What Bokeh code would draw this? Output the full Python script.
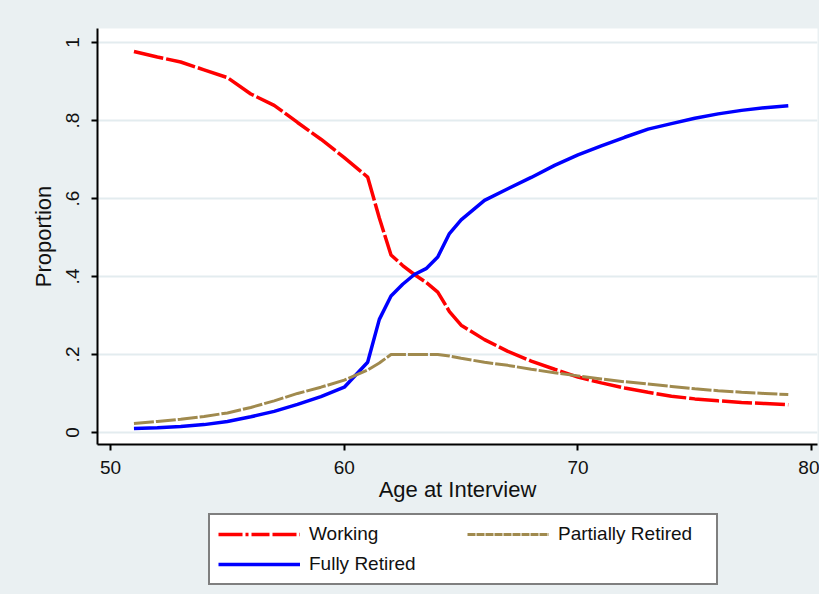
from bokeh.plotting import figure
from bokeh.layouts import column
from bokeh.models import Legend, LegendItem, FixedTicker, Range1d, CustomJSTickFormatter
from bokeh.embed import file_html
from bokeh.resources import INLINE

# ---- data ----
ages = [51, 52, 53, 54, 55, 56, 57, 58, 59, 60, 61, 61.5, 62, 62.5, 63, 63.5, 64, 64.5,
        65, 66, 67, 68, 69, 70, 71, 72, 73, 74, 75, 76, 77, 78, 79]
working = [0.977, 0.963, 0.950, 0.930, 0.910, 0.868, 0.839, 0.795, 0.752, 0.705, 0.655, 0.550,
           0.455, 0.428, 0.405, 0.385, 0.360, 0.310, 0.275, 0.238, 0.208, 0.183, 0.162, 0.142,
           0.127, 0.114, 0.103, 0.093, 0.086, 0.081, 0.077, 0.074, 0.071]
fully_retired = [0.010, 0.012, 0.015, 0.020, 0.028, 0.040, 0.054, 0.072, 0.092, 0.116, 0.180,
                 0.290, 0.350, 0.380, 0.405, 0.420, 0.450, 0.510, 0.545, 0.595, 0.625, 0.654,
                 0.685, 0.712, 0.735, 0.757, 0.778, 0.792, 0.806, 0.817, 0.826, 0.833, 0.838]
partially_retired = [0.023, 0.028, 0.034, 0.041, 0.050, 0.064, 0.081, 0.100, 0.116, 0.134, 0.160,
                     0.178, 0.200, 0.200, 0.200, 0.200, 0.200, 0.196, 0.190, 0.180, 0.172, 0.162,
                     0.153, 0.145, 0.137, 0.130, 0.124, 0.118, 0.112, 0.107, 0.103, 0.100, 0.097]
x_ticks = [50, 60, 70, 80]
y_ticks = [0, 0.2, 0.4, 0.6, 0.8, 1]

BG = "#eaf0f2"
FONT = "Liberation Sans"
RED, BLUE, TAN = "#ff0000", "#0000ff", "#a08a4e"

# ---- main chart ----
p = figure(width=819, height=505, output_backend="svg", toolbar_location=None,
           x_range=Range1d(49.44, 80.25), y_range=Range1d(-0.031, 1.036),
           min_border_left=97, min_border_right=2, min_border_top=28, min_border_bottom=61,
           background_fill_color="white", border_fill_color=BG)
p.outline_line_color = None

p.line(ages, working, line_color=RED, line_width=3.5, line_dash="30 3")
p.line(ages, fully_retired, line_color=BLUE, line_width=3.5)
p.line(ages, partially_retired, line_color=TAN, line_width=3, line_dash="20 2")

p.xaxis.ticker = FixedTicker(ticks=x_ticks)
p.yaxis.ticker = FixedTicker(ticks=y_ticks)
p.yaxis.formatter = CustomJSTickFormatter(code="""
    if (Math.abs(tick) < 1e-9) return '0';
    if (Math.abs(tick - 1) < 1e-9) return '1';
    return tick.toFixed(1).replace(/^0/, '');
""")
p.xaxis.axis_label = "Age at Interview"
p.yaxis.axis_label = "Proportion"
for ax in (p.xaxis[0], p.yaxis[0]):
    ax.axis_line_color = "black"
    ax.axis_line_width = 2
    ax.major_tick_line_color = "black"
    ax.major_tick_line_width = 2
    ax.major_tick_out = 6
    ax.major_tick_in = 0
    ax.minor_tick_line_color = None
    ax.major_label_text_font = FONT
    ax.major_label_text_font_size = "19px"
    ax.major_label_text_color = "#111111"
    ax.axis_label_text_font = FONT
    ax.axis_label_text_font_size = "22px"
    ax.axis_label_text_font_style = "normal"
    ax.axis_label_text_color = "#111111"
p.yaxis.major_label_orientation = "vertical"
p.yaxis.major_label_standoff = 12
p.yaxis.axis_label_standoff = 8
p.xaxis.major_label_standoff = 10
p.xaxis.axis_label_standoff = 0

p.xgrid.grid_line_color = None
p.ygrid.grid_line_color = "#e3ecef"
p.ygrid.grid_line_width = 2

# ---- legend strip (legend glyphs reuse the same series, kept outside the strip's view) ----
pl = figure(width=819, height=89, output_backend="svg", toolbar_location=None,
            x_range=Range1d(0, 1), y_range=Range1d(0, 1),
            min_border=0, background_fill_color=BG, background_fill_alpha=0,
            border_fill_color=BG)
pl.outline_line_color = None
pl.axis.visible = False
pl.grid.visible = False
lw = pl.line(ages, working, line_color=RED, line_width=3.5, line_dash="24 3 3 3 18 3")
lf = pl.line(ages, fully_retired, line_color=BLUE, line_width=3.5)
lp = pl.line(ages, partially_retired, line_color=TAN, line_width=3, line_dash="8 1")

legend = Legend(items=[
    LegendItem(label="Working", renderers=[lw]),
    LegendItem(label="Partially Retired", renderers=[lp]),
    LegendItem(label="Fully Retired", renderers=[lf]),
], orientation="horizontal", ncols=2, location=(111, 9))
legend.label_text_font = FONT
legend.label_text_font_size = "19px"
legend.label_text_color = "#111111"
legend.glyph_width = 82
legend.glyph_height = 20
legend.label_standoff = 9
legend.label_width = 150
legend.spacing = 8
legend.padding = 8
legend.margin = 0
legend.border_line_color = "black"
legend.border_line_width = 2
legend.background_fill_color = "white"
legend.background_fill_alpha = 1
pl.add_layout(legend, "center")

layout = column(p, pl, spacing=0, styles={"background-color": BG})
open("out.html", "w").write(file_html(layout, INLINE))
